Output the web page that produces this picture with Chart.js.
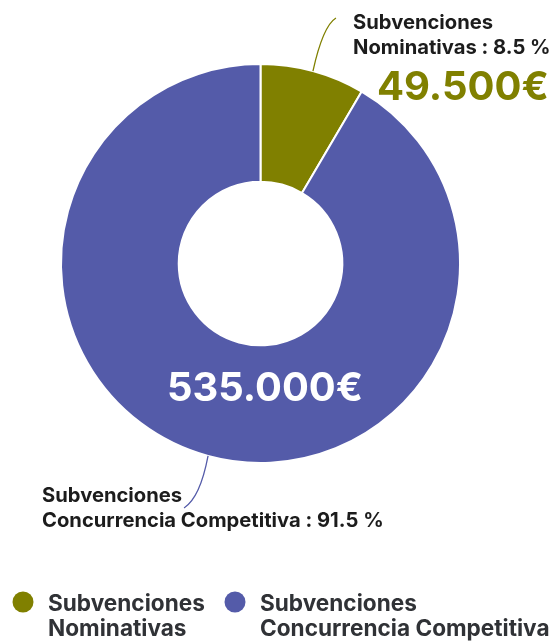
<!DOCTYPE html>
<html>
<head>
<meta charset="utf-8">
<script src="https://cdn.jsdelivr.net/npm/chart.js@4.4.1/dist/chart.umd.min.js"></script>
<style>
  html, body { margin: 0; padding: 0; background: #fff; }
  #wrap { width: 555px; height: 641px; position: relative; }
</style>
</head>
<body>
<div id="wrap"><canvas id="chart"></canvas></div>
<script>
// data
const labels = ["Subvenciones Nominativas", "Subvenciones Concurrencia Competitiva"];
const labelLines = [["Subvenciones", "Nominativas"], ["Subvenciones", "Concurrencia Competitiva"]];
const values = [49500, 535000];
const colors = ["#808000", "#545ba9"];

const FONT = "Inter, 'Open Sans', sans-serif";

function euro(v) {
  return String(v).replace(/\B(?=(\d{3})+(?!\d))/g, ".") + "€";
}

const total = values.reduce((a, b) => a + b, 0);
const pct = values.map(v => (v / total * 100).toFixed(1));

// pick a font size so that a sample string gets about the width seen in the picture
function fitFont(ctx, text, width, start) {
  let size = start;
  ctx.font = "bold " + size + "px " + FONT;
  size = size * width / ctx.measureText(text).width;
  return "bold " + size.toFixed(1) + "px " + FONT;
}

const calloutPlugin = {
  id: "callouts",
  afterDraw(chart) {
    const ctx = chart.ctx;
    const arcs = chart.getDatasetMeta(0).data;
    ctx.save();
    ctx.textBaseline = "alphabetic";
    ctx.textAlign = "left";

    const labelFont = fitFont(ctx, "Subvenciones", 140, 18);

    // olive slice, label top right
    let a = arcs[0].getProps(["x", "y", "startAngle", "endAngle", "outerRadius"]);
    let mid = (a.startAngle + a.endAngle) / 2;
    let sx = a.x + Math.cos(mid) * a.outerRadius;
    let sy = a.y + Math.sin(mid) * a.outerRadius;
    ctx.strokeStyle = colors[0];
    ctx.lineWidth = 1.3;
    ctx.beginPath();
    ctx.moveTo(sx, sy);
    ctx.quadraticCurveTo(sx + 10, sy - 45, sx + 23, sy - 53);
    ctx.stroke();
    ctx.fillStyle = "#1c1c1c";
    ctx.font = labelFont;
    ctx.fillText(labelLines[0][0], 353, 29);
    ctx.fillText(labelLines[0][1] + " : " + pct[0] + " %", 353, 54);
    ctx.fillStyle = colors[0];
    ctx.font = fitFont(ctx, euro(values[0]), 172, 40);
    ctx.fillText(euro(values[0]), 377, 100);

    // blue slice, label bottom left
    a = arcs[1].getProps(["x", "y", "startAngle", "endAngle", "outerRadius"]);
    mid = (a.startAngle + a.endAngle) / 2;
    sx = a.x + Math.cos(mid) * a.outerRadius;
    sy = a.y + Math.sin(mid) * a.outerRadius;
    ctx.strokeStyle = colors[1];
    ctx.beginPath();
    ctx.moveTo(sx, sy);
    ctx.quadraticCurveTo(sx - 8, sy + 42, sx - 24, sy + 52);
    ctx.stroke();
    ctx.fillStyle = "#1c1c1c";
    ctx.font = labelFont;
    ctx.fillText(labelLines[1][0], 42, 502);
    ctx.fillText(labelLines[1][1] + " : " + pct[1] + " %", 42, 527);

    // value inside big slice
    ctx.fillStyle = "#ffffff";
    ctx.font = fitFont(ctx, euro(values[1]), 196, 37);
    ctx.textAlign = "center";
    ctx.fillText(euro(values[1]), 265, 401);

    // legend
    const legendX = [23, 235];
    ctx.textAlign = "left";
    const legFont = fitFont(ctx, "Subvenciones", 157, 21);
    legendX.forEach((x, i) => {
      ctx.fillStyle = colors[i];
      ctx.beginPath();
      ctx.arc(x, 602, 10.5, 0, Math.PI * 2);
      ctx.fill();
      ctx.fillStyle = "#303236";
      ctx.font = legFont;
      ctx.fillText(labelLines[i][0], x + 25, 611);
      ctx.fillText(labelLines[i][1], x + 25, 636);
    });
    ctx.restore();
  }
};

new Chart(document.getElementById("chart"), {
  type: "doughnut",
  data: {
    labels: labels,
    datasets: [{
      data: values,
      backgroundColor: colors,
      borderColor: "#ffffff",
      borderWidth: 2
    }]
  },
  options: {
    responsive: true,
    maintainAspectRatio: false,
    animation: false,
    cutout: "41%",
    layout: { padding: { left: 60, right: 94, top: 63, bottom: 177 } },
    plugins: {
      legend: { display: false },
      tooltip: { enabled: false }
    }
  },
  plugins: [calloutPlugin]
});
</script>
</body>
</html>
